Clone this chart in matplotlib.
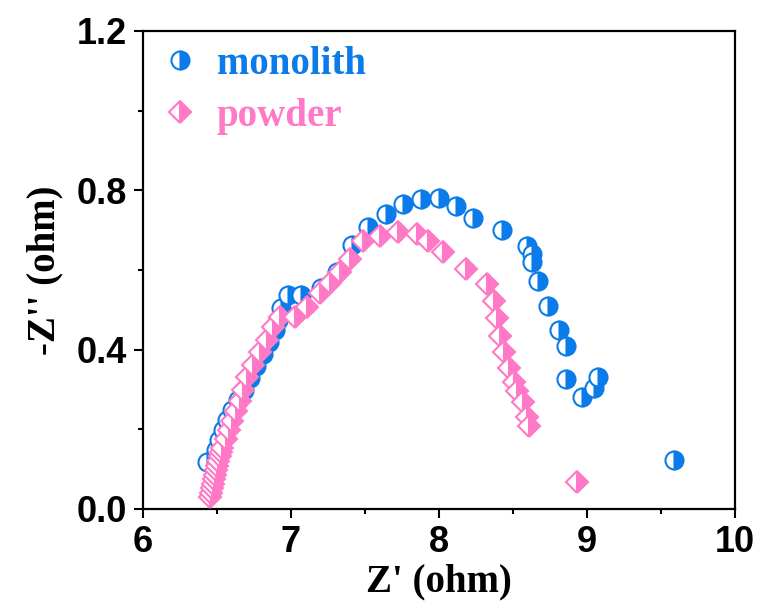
import matplotlib
matplotlib.use("Agg")
import matplotlib.pyplot as plt
from matplotlib.font_manager import FontProperties
from matplotlib.ticker import MultipleLocator

# ---- data ----
mono_x = [6.432, 6.490, 6.515, 6.540, 6.565, 6.600, 6.645, 6.680, 6.720, 6.765,
          6.810, 6.850, 6.890, 6.910, 6.930, 6.980, 7.068, 7.200, 7.310, 7.410,
          7.520, 7.642, 7.757, 7.878, 8.000, 8.115, 8.230, 8.426, 8.595, 8.628,
          8.628, 8.669, 8.736, 8.811, 8.858, 8.858, 8.966, 9.047, 9.074, 9.588]
mono_y = [0.118, 0.148, 0.173, 0.198, 0.223, 0.249, 0.274, 0.299, 0.329, 0.359,
          0.389, 0.419, 0.449, 0.475, 0.505, 0.537, 0.537, 0.555, 0.595, 0.663,
          0.708, 0.741, 0.766, 0.778, 0.781, 0.761, 0.731, 0.700, 0.660, 0.640,
          0.620, 0.572, 0.510, 0.449, 0.409, 0.326, 0.281, 0.304, 0.331, 0.123]

powder_x = [6.453, 6.459, 6.466, 6.473, 6.480, 6.486, 6.493, 6.500, 6.507, 6.517,
            6.527, 6.537, 6.561, 6.581, 6.601, 6.628, 6.655, 6.676, 6.703, 6.743,
            6.791, 6.838, 6.878, 6.926, 7.027, 7.108, 7.196, 7.264, 7.331, 7.399,
            7.486, 7.601, 7.723, 7.851, 7.926, 8.027, 8.182, 8.324, 8.372, 8.392,
            8.412, 8.439, 8.473, 8.507, 8.527, 8.568, 8.595, 8.608, 8.932]
powder_y = [0.030, 0.041, 0.053, 0.064, 0.075, 0.086, 0.098, 0.109, 0.120, 0.132,
            0.143, 0.154, 0.176, 0.198, 0.221, 0.246, 0.271, 0.299, 0.331, 0.362,
            0.394, 0.424, 0.457, 0.482, 0.482, 0.507, 0.542, 0.567, 0.595, 0.628,
            0.673, 0.685, 0.695, 0.690, 0.673, 0.645, 0.603, 0.565, 0.522, 0.480,
            0.434, 0.394, 0.354, 0.319, 0.296, 0.269, 0.231, 0.208, 0.068]

labels = ["monolith", "powder"]
xticks = [6, 7, 8, 9, 10]
yticks = [0.0, 0.4, 0.8, 1.2]

BLUE = "#0A7BE8"
PINK = "#FF79C6"

W, H = 761, 603
fig = plt.figure(figsize=(W / 100, H / 100), dpi=100)
ax = fig.add_axes([143 / W, 1 - 509 / H, (735 - 143) / W, (509 - 31) / H])

ax.plot(mono_x, mono_y, linestyle="none", marker="o", ms=13, mew=1.5,
        color=BLUE, markerfacecolor=BLUE, markerfacecoloralt="white",
        markeredgecolor=BLUE, fillstyle="right", label=labels[0], zorder=2)
ax.plot(powder_x, powder_y, linestyle="none", marker="D", ms=11, mew=1.5,
        color=PINK, markerfacecolor=PINK, markerfacecoloralt="white",
        markeredgecolor=PINK, fillstyle="right", label=labels[1], zorder=3)

ax.set_xlim(6, 10)
ax.set_ylim(0, 1.2)
ax.set_xticks(xticks)
ax.set_yticks(yticks)
ax.xaxis.set_minor_locator(MultipleLocator(0.5))
ax.yaxis.set_minor_locator(MultipleLocator(0.2))
ax.set_xticklabels([str(t) for t in xticks])
ax.set_yticklabels([f"{t:.1f}" for t in yticks])

tick_fp = FontProperties(family="Liberation Sans", weight="bold", size=26)
for lab in ax.get_xticklabels() + ax.get_yticklabels():
    lab.set_fontproperties(tick_fp)

ax.tick_params(which="major", direction="out", length=6.5, width=1.5, pad=5,
               top=False, right=False)
ax.tick_params(which="minor", direction="out", length=3.5, width=1.5,
               top=False, right=False)
for s in ax.spines.values():
    s.set_linewidth(1.6)

lab_fp = FontProperties(family="Liberation Serif", weight="bold", size=28)
ax.set_xlabel("Z' (ohm)", fontproperties=lab_fp)
ax.set_ylabel("-Z'' (ohm)", fontproperties=lab_fp)
ax.xaxis.set_label_coords(0.5, -0.113)
ax.yaxis.set_label_coords(-0.135, 0.5)

leg = ax.legend(loc="upper left", bbox_to_anchor=((164 - 143) / 592, (509 - 46) / 478),
                frameon=False, prop=lab_fp, labelcolor=[BLUE, PINK],
                handlelength=0.8, handletextpad=0.55, labelspacing=0.38,
                borderpad=0, borderaxespad=0, numpoints=1)

fig.savefig("out.png", dpi=100)
